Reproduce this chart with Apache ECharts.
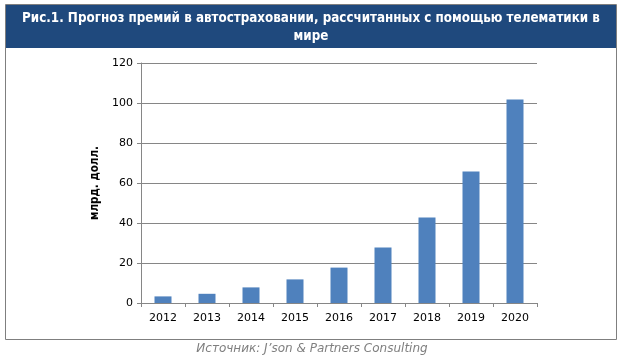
<!DOCTYPE html>
<html><head><meta charset="utf-8">
<script src="https://cdn.jsdelivr.net/npm/echarts@6/dist/echarts.min.js"></script>
<style>html,body{margin:0;padding:0;background:#fff}#c{width:622px;height:361px}</style>
</head><body><div id="c"></div>
<script>
const categories = ['2012','2013','2014','2015','2016','2017','2018','2019','2020'];
const values = [3.3, 4.6, 7.8, 11.8, 17.7, 27.7, 42.7, 65.7, 101.7];
const titleText = 'Рис.1. Прогноз премий в автостраховании, рассчитанных с помощью телематики в\nмире';
const yName = 'млрд. долл.';
const sourceText = 'Источник: J’son & Partners Consulting';

const chart = echarts.init(document.getElementById('c'), null, {renderer:'canvas'});
chart.setOption({
  animation: false,
  backgroundColor: '#fff',
  graphic: [
    {type:'rect', shape:{x:5.5,y:4.5,width:611,height:335}, style:{fill:'#fff', stroke:'#7f7f7f', lineWidth:1}, z:-10},
    {type:'rect', shape:{x:6,y:5,width:610,height:43}, style:{fill:'#1f497d'}, z:-9},
    {type:'text', x:311, y:10, style:{text:titleText, fill:'#fff', font:'bold 13.3px "DejaVu Sans Condensed", "DejaVu Sans", sans-serif', align:'center', verticalAlign:'top', lineHeight:18}},
    {type:'text', x:312, y:343, style:{text:sourceText, fill:'#7f7f7f', font:'italic 12px "DejaVu Sans", sans-serif', align:'center'}}
  ],
  grid: {left:141, right:85, top:63, bottom:58},
  xAxis: {
    type:'category', data:categories, boundaryGap:true,
    axisLine:{lineStyle:{color:'#868686'}},
    axisTick:{show:true, length:4, lineStyle:{color:'#868686'}},
    axisLabel:{color:'#000', fontSize:11, fontFamily:'DejaVu Sans', margin:10}
  },
  yAxis: {
    type:'value', min:0, max:120, interval:20,
    name: yName, nameLocation:'middle', nameGap:22, nameRotate:90,
    nameTextStyle:{color:'#000', fontWeight:'bold', fontSize:11.5, fontFamily:'DejaVu Sans Condensed'},
    axisLine:{show:true, lineStyle:{color:'#868686'}},
    axisTick:{show:true, length:4, lineStyle:{color:'#868686'}},
    axisLabel:{color:'#000', fontSize:11, fontFamily:'DejaVu Sans', margin:8},
    splitLine:{lineStyle:{color:'#868686'}}
  },
  series: [{type:'bar', data:values, barWidth:17, itemStyle:{color:'#4f81bd'}}]
});
</script></body></html>
